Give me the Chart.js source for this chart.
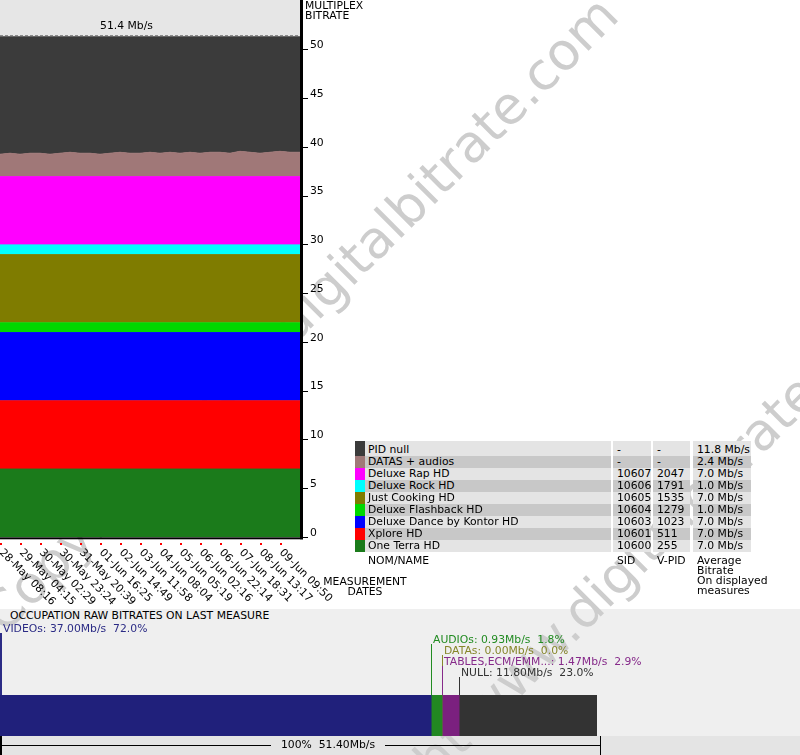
<!DOCTYPE html>
<html>
<head>
<meta charset="utf-8">
<script src="https://cdn.jsdelivr.net/npm/chart.js@4/dist/chart.umd.min.js"></script>
<style>
body { margin:0; width:800px; height:755px; position:relative; overflow:hidden; background:#fff;
       font-family:"DejaVu Sans", sans-serif; font-size:10.8px; color:#000; }
.abs { position:absolute; white-space:nowrap; }
.wm { position:absolute; font-size:52px; line-height:1; color:#cdcdcd; white-space:nowrap;
      transform-origin:0 0; transform:rotate(-45deg); z-index:1; }
.layer { z-index:2; }
#occBg { left:0; top:609px; width:800px; height:127px; background:#efefef; z-index:0; }
#occBg2 { left:0; top:736px; width:800px; height:19px; background:#e4e4e4; z-index:0; }
.cell { position:absolute; line-height:12px; overflow:hidden; white-space:nowrap; }
.lbl { line-height:10px; }
</style>
</head>
<body>
<div id="occBg" class="abs"></div>
<div id="occBg2" class="abs"></div>
<div class="wm" style="left:-27px;top:604px">Copyright www.digitalbitrate.com</div>
<div class="wm" style="left:263px;top:892px">Copyright www.digitalbitrate.com</div>

<canvas id="mux" class="abs layer" width="345" height="609" style="left:0;top:0"></canvas>
<div class="abs layer lbl" style="left:305px;top:1px">MULTIPLEX<br>BITRATE</div>
<div class="abs layer lbl" style="left:315px;top:577px;width:100px;text-align:center">MEASUREMENT<br>DATES</div>

<div id="legend" class="abs layer" style="left:0;top:0"></div>
<div class="abs layer lbl" style="left:368px;top:556px">NOM/NAME</div>
<div class="abs layer lbl" style="left:617px;top:556px">SID</div>
<div class="abs layer lbl" style="left:657px;top:556px">V-PID</div>
<div class="abs layer lbl" style="left:697px;top:556px">Average<br>Bitrate<br>On displayed<br>measures</div>

<div class="abs layer" style="left:10px;top:610px;line-height:12px">OCCUPATION RAW BITRATES ON LAST MEASURE</div>
<canvas id="occ" class="abs layer" width="800" height="146" style="left:0;top:609px"></canvas>

<script>
// --- data ---
const dateLabels = ['28-May 08:16','29-May 04:15','30-May 02:29','30-May 23:24','31-May 20:39',
    '01-Jun 16:25','02-Jun 14:49','03-Jun 11:58','04-Jun 08:04','05-Jun 05:19',
    '06-Jun 02:16','06-Jun 22:14','07-Jun 18:31','08-Jun 13:17','09-Jun 09:50'];

// sample positions along the time axis (1 unit = one date label step)
const samplePos = [0,0.5,1,1.5,2,2.5,3,3.5,4,4.5,5,5.5,6,6.5,7,7.5,8,8.5,9,9.5,10,10.5,11,11.5,12,12.5,13,13.5,14,14.5,15];

const pidNull         = [12.1,12.0,12.1,12.0,12.0,12.1,12.0,11.9,12.0,12.0,12.1,12.0,11.9,12.0,12.0,11.9,12.0,11.9,12.0,11.9,12.0,11.9,11.9,12.0,11.8,11.9,12.0,11.9,11.8,11.9,11.9];
const datasAudios     = [2.3,2.4,2.3,2.4,2.4,2.3,2.4,2.5,2.4,2.4,2.3,2.4,2.5,2.4,2.4,2.5,2.4,2.5,2.4,2.5,2.4,2.5,2.5,2.4,2.6,2.5,2.4,2.5,2.6,2.5,2.5];
const deluxeRap       = [7.0,7.0,7.0,7.0,7.0,7.0,7.0,7.0,7.0,7.0,7.0,7.0,7.0,7.0,7.0,7.0,7.0,7.0,7.0,7.0,7.0,7.0,7.0,7.0,7.0,7.0,7.0,7.0,7.0,7.0,7.0];
const deluxeRock      = [1.0,1.0,1.0,1.0,1.0,1.0,1.0,1.0,1.0,1.0,1.0,1.0,1.0,1.0,1.0,1.0,1.0,1.0,1.0,1.0,1.0,1.0,1.0,1.0,1.0,1.0,1.0,1.0,1.0,1.0,1.0];
const justCooking     = [7.0,7.0,7.0,7.0,7.0,7.0,7.0,7.0,7.0,7.0,7.0,7.0,7.0,7.0,7.0,7.0,7.0,7.0,7.0,7.0,7.0,7.0,7.0,7.0,7.0,7.0,7.0,7.0,7.0,7.0,7.0];
const deluxeFlashback = [1.0,1.0,1.0,1.0,1.0,1.0,1.0,1.0,1.0,1.0,1.0,1.0,1.0,1.0,1.0,1.0,1.0,1.0,1.0,1.0,1.0,1.0,1.0,1.0,1.0,1.0,1.0,1.0,1.0,1.0,1.0];
const deluxeDance     = [7.0,7.0,7.0,7.0,7.0,7.0,7.0,7.0,7.0,7.0,7.0,7.0,7.0,7.0,7.0,7.0,7.0,7.0,7.0,7.0,7.0,7.0,7.0,7.0,7.0,7.0,7.0,7.0,7.0,7.0,7.0];
const xploreHd        = [7.0,7.0,7.0,7.0,7.0,7.0,7.0,7.0,7.0,7.0,7.0,7.0,7.0,7.0,7.0,7.0,7.0,7.0,7.0,7.0,7.0,7.0,7.0,7.0,7.0,7.0,7.0,7.0,7.0,7.0,7.0];
const oneTerra        = [7.0,7.0,7.0,7.0,7.0,7.0,7.0,7.0,7.0,7.0,7.0,7.0,7.0,7.0,7.0,7.0,7.0,7.0,7.0,7.0,7.0,7.0,7.0,7.0,7.0,7.0,7.0,7.0,7.0,7.0,7.0];

// legend table, top to bottom
const seriesNames  = ['PID null','DATAS + audios','Deluxe Rap HD','Deluxe Rock HD','Just Cooking HD',
                      'Deluxe Flashback HD','Deluxe Dance by Kontor HD','Xplore HD','One Terra HD'];
const seriesValues = [pidNull, datasAudios, deluxeRap, deluxeRock, justCooking, deluxeFlashback, deluxeDance, xploreHd, oneTerra];
const seriesColors = ['#3b3b3b','#a07878','#ff00ff','#00ffff','#7f7c00','#00d800','#0000ff','#ff0000','#1b7b1b'];
const seriesSids   = ['-','-','10607','10606','10605','10604','10603','10601','10600'];
const seriesVpids  = ['-','-','2047','1791','1535','1279','1023','511','255'];
const seriesAvg    = [11.8, 2.4, 7.0, 1.0, 7.0, 1.0, 7.0, 7.0, 7.0];

const yTicksStep = 5;
const multiplexBitrate = 51.4;

// occupation on last measure
const occNames  = ['VIDEOs','AUDIOs','DATAs','TABLES,ECM/EMM...','NULL'];
const occValues = [37.00, 0.93, 0.00, 1.47, 11.80];
const occColors = ['#20207b','#228822','#808020','#7b207f','#333333'];
const occText   = ['#2b2b85','#228b22','#86862a','#862a8a','#333333'];

const FONT = '10.8px "DejaVu Sans"';

// --- legend table ---
const legend = document.getElementById('legend');
seriesNames.forEach((name, i) => {
    const top = i === 0 ? 441 : 456 + (i - 1) * 12;
    const h = i === 0 ? 15 : 12;
    const bg = i % 2 === 0 ? '#e4e4e4' : '#c8c8c8';
    const pad = h - 12;
    const cells = [
        [355, 10, '', seriesColors[i]],
        [365, 246, name, bg],
        [613, 38, seriesSids[i], bg],
        [653, 37, seriesVpids[i], bg],
        [693, 58, seriesAvg[i].toFixed(1) + ' Mb/s', bg]
    ];
    cells.forEach(([x, w, txt, c], j) => {
        const d = document.createElement('div');
        d.className = 'cell';
        d.style.cssText = `left:${x}px;top:${top}px;width:${w}px;height:${h - pad}px;padding-top:${pad}px;background:${c};` +
            `text-indent:${j === 0 ? 0 : (j === 1 ? 3 : 4)}px`;
        d.textContent = txt;
        legend.appendChild(d);
    });
});

// --- main stacked area chart ---
const muxDecor = {
    id: 'muxDecor',
    beforeDraw(chart) {
        const { ctx, chartArea: ca } = chart;
        ctx.save();
        ctx.fillStyle = '#e6e6e6';
        ctx.fillRect(0, 0, ca.right, ca.top);
        ctx.fillStyle = '#000';
        ctx.font = FONT;
        ctx.textAlign = 'center';
        ctx.textBaseline = 'middle';
        ctx.fillText(multiplexBitrate.toFixed(1) + ' Mb/s', 126.5, 26);
        ctx.restore();
    },
    afterDraw(chart) {
        const { ctx, chartArea: ca } = chart;
        const xs = chart.scales.x;
        ctx.save();
        // dashed ceiling
        ctx.strokeStyle = '#8c8c8c';
        ctx.lineWidth = 1;
        ctx.setLineDash([3, 2]);
        ctx.beginPath();
        ctx.moveTo(0, 35.5);
        ctx.lineTo(ca.right, 35.5);
        ctx.stroke();
        ctx.setLineDash([]);
        // thick axes
        ctx.fillStyle = '#000';
        ctx.fillRect(ca.right, 0, 3, ca.bottom + 2);
        ctx.fillRect(ca.left, ca.bottom, ca.right - ca.left + 3, 2);
        // date ticks, rotated down-right
        ctx.font = FONT;
        ctx.textAlign = 'left';
        ctx.textBaseline = 'middle';
        dateLabels.forEach((lab, i) => {
            const x = Math.round(xs.getPixelForValue(i));
            ctx.fillStyle = '#ff0000';
            ctx.fillRect(x, 543, 2, 2);
            ctx.save();
            ctx.translate(x + 1, 551);
            ctx.rotate(Math.PI / 4);
            ctx.fillStyle = '#000';
            ctx.fillText(lab, 0, 0);
            ctx.restore();
        });
        ctx.restore();
    }
};

const order = seriesNames.map((_, i) => i).reverse();   // bottom series first
new Chart(document.getElementById('mux'), {
    type: 'line',
    data: {
        datasets: order.map((i, k) => ({
            label: seriesNames[i],
            data: samplePos.map((x, j) => ({ x: x, y: seriesValues[i][j] })),
            backgroundColor: seriesColors[i],
            borderColor: seriesColors[i],
            borderWidth: 1,
            pointRadius: 0,
            tension: 0,
            fill: k === 0 ? 'origin' : '-1'
        }))
    },
    options: {
        responsive: false,
        animation: false,
        devicePixelRatio: 1,
        layout: { padding: { top: 36.3, left: 0, right: 0, bottom: 0 } },
        scales: {
            x: {
                type: 'linear', min: 0, max: dateLabels.length,
                ticks: { display: false },
                grid: { display: false },
                border: { display: false },
                afterFit(s) { s.height = 71.7; }
            },
            y: {
                position: 'right', stacked: true, min: 0, max: multiplexBitrate,
                ticks: { stepSize: yTicksStep, includeBounds: false, color: '#000', padding: 2,
                         labelOffset: -4.5, font: { family: 'DejaVu Sans', size: 10.8 } },
                grid: { drawOnChartArea: false, drawTicks: true, tickLength: 8, color: '#000', lineWidth: 1 },
                border: { display: false },
                afterFit(s) { s.width = 45; }
            }
        },
        plugins: { legend: { display: false }, tooltip: { enabled: false } }
    },
    plugins: [muxDecor]
});

// --- occupation bar ---
const occTotal = multiplexBitrate;
const occDecor = {
    id: 'occDecor',
    afterDraw(chart) {
        const { ctx, chartArea: ca } = chart;
        const xs = chart.scales.x;
        ctx.save();
        ctx.font = FONT;
        ctx.textBaseline = 'middle';
        ctx.textAlign = 'left';
        let cum = 0;
        occNames.forEach((n, i) => {
            const px = Math.max(1, Math.round(xs.getPixelForValue(cum)));
            const ly = 20 + i * 11;
            ctx.fillStyle = occText[i];
            if (i === 0) ctx.fillRect(0, ly + 4, 2, ca.top - ly - 4);
            else ctx.fillRect(px, ly + 4, 1, ca.top - ly - 4);
            const pct = (occValues[i] / occTotal * 100).toFixed(1);
            ctx.fillText(`${n}: ${occValues[i].toFixed(2)}Mb/s  ${pct}%`, px + 2, ly);
            cum += occValues[i];
        });
        // total bracket
        const y = 136.5;
        const right = Math.round(xs.getPixelForValue(occTotal)) + 1;
        ctx.fillStyle = '#000';
        ctx.fillRect(0, ca.bottom, 2, 146 - ca.bottom);
        ctx.fillRect(right, ca.bottom, 1, 146 - ca.bottom);
        ctx.strokeStyle = '#000';
        ctx.lineWidth = 1;
        ctx.beginPath();
        ctx.moveTo(1, y); ctx.lineTo(271, y);
        ctx.moveTo(385, y); ctx.lineTo(right, y);
        ctx.stroke();
        ctx.fillText(`100%  ${occTotal.toFixed(2)}Mb/s`, 281, y);
        ctx.restore();
    }
};

new Chart(document.getElementById('occ'), {
    type: 'bar',
    data: {
        labels: ['last'],
        datasets: occNames.map((n, i) => ({
            label: n,
            data: [occValues[i]],
            backgroundColor: occColors[i],
            borderWidth: 0,
            barPercentage: 1,
            categoryPercentage: 1
        }))
    },
    options: {
        indexAxis: 'y',
        responsive: false,
        animation: false,
        devicePixelRatio: 1,
        layout: { padding: { top: 86, bottom: 19, left: 0, right: 201 } },
        scales: {
            x: { display: false, stacked: true, min: 0, max: occTotal },
            y: { display: false, stacked: true }
        },
        plugins: { legend: { display: false }, tooltip: { enabled: false } }
    },
    plugins: [occDecor]
});
</script>
</body>
</html>
